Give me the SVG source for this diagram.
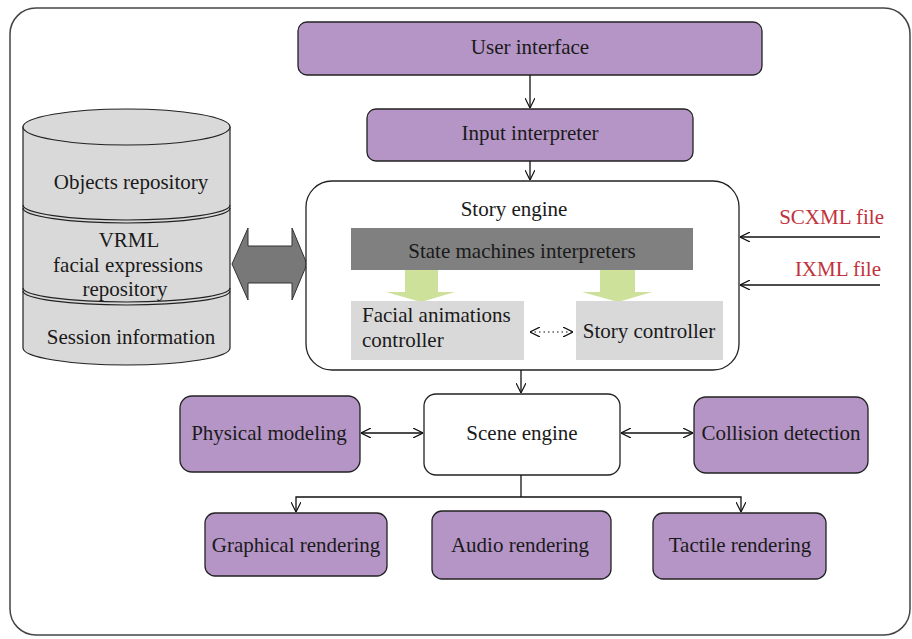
<svg xmlns="http://www.w3.org/2000/svg" width="912" height="639" viewBox="0 0 912 639" font-family="'Liberation Serif','Times New Roman',serif">
<style>
text{font-family:"Liberation Serif","Times New Roman",serif;font-size:21px;fill:#1a1a1a}
.c{text-anchor:middle}
.p{fill:#b595c6;stroke:#222;stroke-width:1.3}
.w{fill:#fff;stroke:#222;stroke-width:1.3}
.ln{fill:none;stroke:#111;stroke-width:1.3}
.red{fill:#c1323c}
.cyl{fill:#d9d9d9;stroke:#222;stroke-width:1.2}
.band{fill:none;stroke:#222;stroke-width:1.2}
</style>
<defs>
<marker id="ah" viewBox="0 0 10 10" refX="10" refY="5" markerWidth="10" markerHeight="10" markerUnits="userSpaceOnUse" orient="auto-start-reverse">
<path d="M0,0 L10,5 L0,10" fill="none" stroke="#111" stroke-width="1.2"/>
</marker>
</defs>
<rect x="10" y="8" width="900" height="627" rx="26" fill="#fff" stroke="#444" stroke-width="1.5"/>

<g id="repository">
<path class="cyl" d="M23,127 L23,348 A103.5,17 0 0 0 230,348 L230,127 Z"/>
<ellipse class="cyl" cx="126.5" cy="127" rx="103.5" ry="18"/>
<path class="band" d="M23,205 A103.5,15 0 0 0 230,205"/>
<path class="band" d="M23,208 A103.5,15 0 0 0 230,208" stroke-width="1.8"/>
<path class="band" d="M23,288 A103.5,14 0 0 0 230,288"/>
<path class="band" d="M23,291 A103.5,14 0 0 0 230,291" stroke-width="1.8"/>
<text class="c" x="131" y="189">Objects repository</text>
<text class="c" x="129" y="247">VRML</text>
<text class="c" x="128" y="272">facial expressions</text>
<text class="c" x="125" y="296">repository</text>
<text class="c" x="131" y="344">Session information</text>
</g>

<g id="bigarrow">
<path d="M232,264 L248,228 L248,246 L292,246 L292,228 L307,264 L292,300 L292,283 L248,283 L248,300 Z" fill="#787878" stroke="#333" stroke-width="1"/>
</g>

<g id="user-interface">
<rect class="p" x="298" y="22" width="464" height="53" rx="9"/>
<text class="c" x="530" y="54">User interface</text>
</g>
<g id="input-interpreter">
<rect class="p" x="367" y="109" width="326" height="52" rx="9"/>
<text class="c" x="530" y="140">Input interpreter</text>
</g>
<g id="story-engine">
<rect class="w" x="306" y="181" width="433" height="189" rx="26"/>
<text class="c" x="514" y="216">Story engine</text>
<rect x="351" y="228" width="342" height="42" fill="#808080"/>
<text class="c" x="522" y="258">State machines interpreters</text>
<path d="M405,270 L438,270 L438,292 L455,292 L421,302 L386,292 L405,292 Z" fill="#cde19a"/>
<path d="M600,270 L635,270 L635,292 L652,292 L618,302 L582,292 L600,292 Z" fill="#cde19a"/>
<g id="facial-animations-controller">
<rect x="351" y="301" width="173" height="59" fill="#d9d9d9"/>
<text x="362" y="322">Facial animations</text>
<text x="362" y="347">controller</text>
</g>
<g id="story-controller">
<rect x="576" y="301" width="147" height="59" fill="#d9d9d9"/>
<text class="c" x="649" y="338">Story controller</text>
</g>
</g>
<g id="scxml-label"><text class="red" x="884" y="224" text-anchor="end">SCXML file</text></g>
<g id="ixml-label"><text class="red" x="881" y="276" text-anchor="end">IXML file</text></g>

<g id="scene-engine">
<rect class="w" x="424" y="394" width="196" height="81" rx="12"/>
<text class="c" x="522" y="440">Scene engine</text>
</g>
<g id="physical-modeling">
<rect class="p" x="180" y="396" width="180" height="76" rx="12"/>
<text class="c" x="269" y="440">Physical modeling</text>
</g>
<g id="collision-detection">
<rect class="p" x="694" y="397" width="174" height="76" rx="12"/>
<text class="c" x="781" y="440">Collision detection</text>
</g>
<g id="graphical-rendering">
<rect class="p" x="205" y="513" width="182" height="63" rx="10"/>
<text class="c" x="296" y="552">Graphical rendering</text>
</g>
<g id="audio-rendering">
<rect class="p" x="432" y="511" width="179" height="68" rx="10"/>
<text class="c" x="520" y="552">Audio rendering</text>
</g>
<g id="tactile-rendering">
<rect class="p" x="653" y="513" width="173" height="66" rx="10"/>
<text class="c" x="740" y="552">Tactile rendering</text>
</g>

<g id="connectors">
<line class="ln" x1="530" y1="75" x2="530" y2="108" marker-end="url(#ah)"/>
<line class="ln" x1="530" y1="161" x2="530" y2="180" marker-end="url(#ah)"/>
<line class="ln" x1="880" y1="237" x2="740" y2="237" marker-end="url(#ah)"/>
<line class="ln" x1="880" y1="285" x2="740" y2="285" marker-end="url(#ah)"/>
<line x1="530" y1="332" x2="573" y2="332" fill="none" stroke="#111" stroke-width="1.2" stroke-dasharray="1.5,3" marker-start="url(#ah)" marker-end="url(#ah)"/>
<line class="ln" x1="521" y1="370" x2="521" y2="393" marker-end="url(#ah)"/>
<line class="ln" x1="361" y1="433" x2="423" y2="433" marker-start="url(#ah)" marker-end="url(#ah)"/>
<line class="ln" x1="621" y1="433" x2="693" y2="433" marker-start="url(#ah)" marker-end="url(#ah)"/>
<line class="ln" x1="521" y1="475" x2="521" y2="497"/>
<path class="ln" d="M296,512 L296,497 L741,497 L741,512" marker-start="url(#ah)" marker-end="url(#ah)"/>
</g>
</svg>
